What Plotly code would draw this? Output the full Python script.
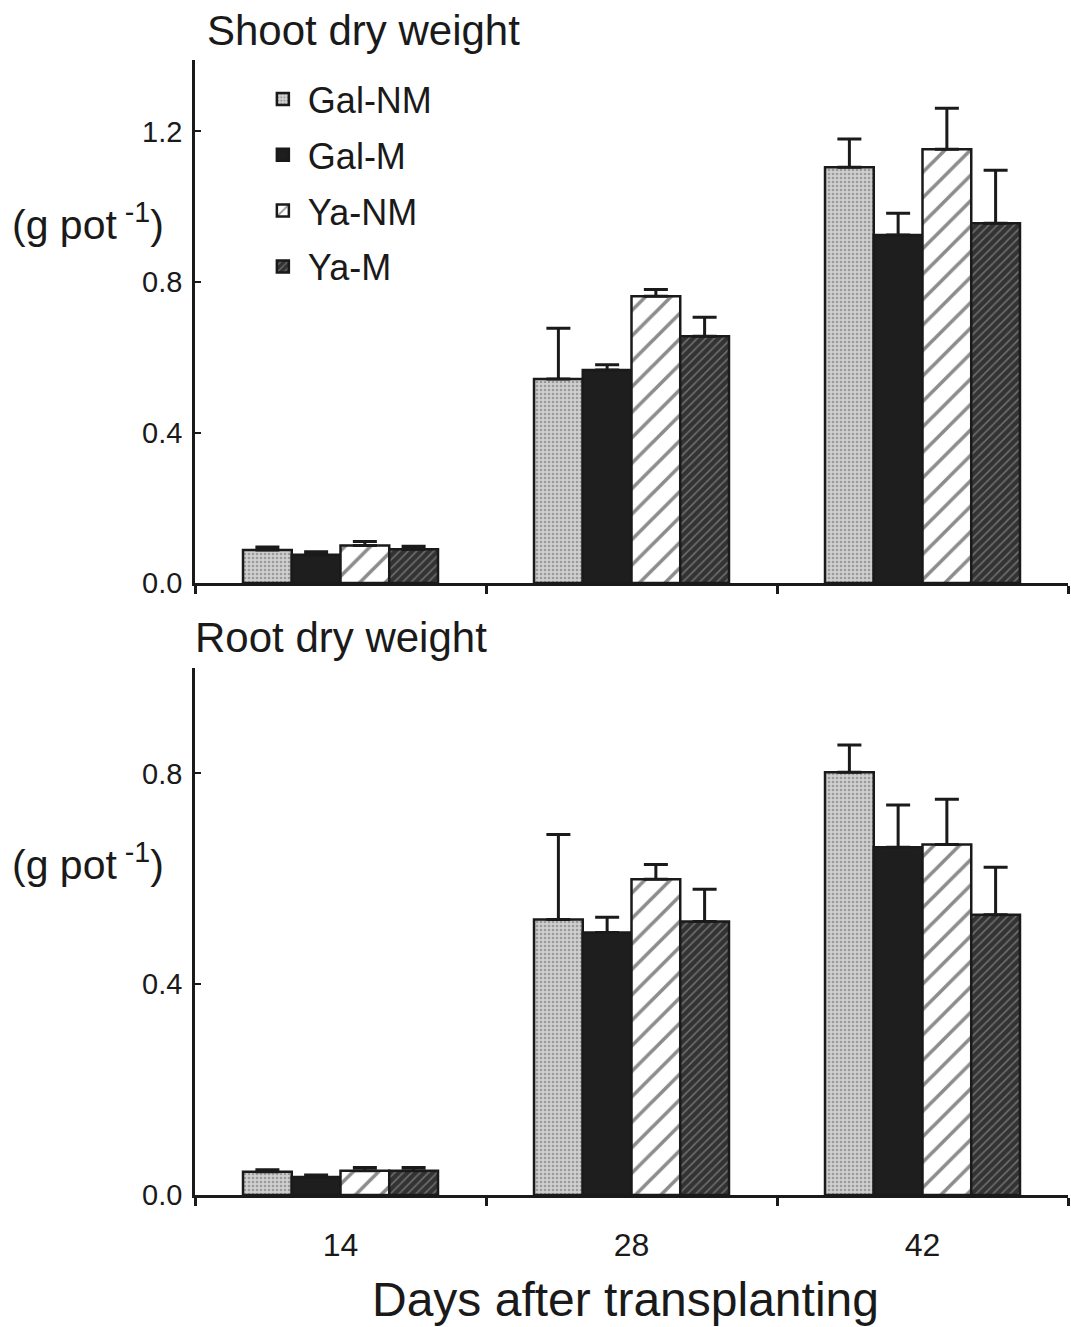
import plotly.graph_objects as go

days = ["14", "28", "42"]
series = ["Gal-NM", "Gal-M", "Ya-NM", "Ya-M"]

shoot = {
    "Gal-NM": [0.088, 0.542, 1.105],
    "Gal-M": [0.075, 0.566, 0.925],
    "Ya-NM": [0.100, 0.762, 1.153],
    "Ya-M": [0.090, 0.656, 0.956],
}
shoot_err = {
    "Gal-NM": [0.008, 0.135, 0.075],
    "Gal-M": [0.008, 0.014, 0.058],
    "Ya-NM": [0.010, 0.018, 0.109],
    "Ya-M": [0.008, 0.050, 0.141],
}
root = {
    "Gal-NM": [0.044, 0.523, 0.802],
    "Gal-M": [0.034, 0.498, 0.660],
    "Ya-NM": [0.046, 0.599, 0.665],
    "Ya-M": [0.046, 0.519, 0.532],
}
root_err = {
    "Gal-NM": [0.004, 0.161, 0.052],
    "Gal-M": [0.004, 0.029, 0.080],
    "Ya-NM": [0.006, 0.028, 0.086],
    "Ya-M": [0.006, 0.061, 0.090],
}

styles = {
    "Gal-NM": dict(color="#cfcfcf", pattern=dict(shape=".", fgcolor="#666666", bgcolor="#cfcfcf", size=4, solidity=0.35)),
    "Gal-M": dict(color="#1e1e1e"),
    "Ya-NM": dict(color="white", pattern=dict(shape="/", fgcolor="#1a1a1a", bgcolor="white", size=18, solidity=0.2)),
    "Ya-M": dict(color="#333333", pattern=dict(shape="/", fgcolor="#b0b0b0", bgcolor="#333333", size=6, solidity=0.25)),
}

FONT = "Liberation Sans, Arial, sans-serif"
INK = "#1a1a1a"
fig = go.Figure()

for s in series:
    st = styles[s]
    marker = dict(color=st["color"], line=dict(color=INK, width=2.5))
    if "pattern" in st:
        marker["pattern"] = st["pattern"]
    fig.add_trace(go.Bar(
        x=days, y=shoot[s], name=s, marker=marker, legendgroup=s,
        error_y=dict(type="data", array=shoot_err[s], arrayminus=[0]*3, symmetric=False,
                     color=INK, thickness=3, width=12),
        xaxis="x", yaxis="y",
    ))
    fig.add_trace(go.Bar(
        x=days, y=root[s], name=s, marker=marker, legendgroup=s, showlegend=False,
        error_y=dict(type="data", array=root_err[s], arrayminus=[0]*3, symmetric=False,
                     color=INK, thickness=3, width=12),
        xaxis="x2", yaxis="y2",
    ))

line_common = dict(showline=True, linecolor=INK, linewidth=2.5, showgrid=False, zeroline=False)
ytick = dict(family=FONT, size=29, color=INK)
xtick = dict(family=FONT, size=32, color=INK)

fig.update_layout(
    width=1071, height=1327,
    margin=dict(l=195, r=3, t=60, b=132),
    plot_bgcolor="white", paper_bgcolor="white",
    barmode="group", bargap=0.33, bargroupgap=0,
    font=dict(family=FONT, color=INK),
    xaxis=dict(**line_common, type="category", range=[-0.5, 2.5], tickson="boundaries",
               ticks="outside", ticklen=8, tickwidth=2.5, tickcolor=INK,
               showticklabels=False, anchor="y"),
    yaxis=dict(**line_common, domain=[0.5392, 1.0], range=[0, 1.39], tickvals=[0, 0.4, 0.8, 1.2],
               tickformat=".1f", ticks="inside", ticklen=6, tickwidth=2, tickcolor=INK, anchor="x",
               tickfont=ytick, ticklabelstandoff=4),
    xaxis2=dict(**line_common, type="category", range=[-0.5, 2.5], tickson="boundaries",
                ticks="outside", ticklen=8, tickwidth=2.5, tickcolor=INK, anchor="y2",
                tickfont=xtick, ticklabelstandoff=20),
    yaxis2=dict(**line_common, domain=[0.0, 0.4643], range=[0, 1.0], tickvals=[0, 0.4, 0.8],
                tickformat=".1f", ticks="inside", ticklen=6, tickwidth=2, tickcolor=INK, anchor="x2",
                tickfont=ytick, ticklabelstandoff=4),
    legend=dict(x=0.072, y=0.992, xanchor="left", yanchor="top", bgcolor="rgba(0,0,0,0)",
                font=dict(family=FONT, size=36, color=INK), tracegroupgap=6,
                itemwidth=40),
)

ann = [
    dict(text="Shoot dry weight", x=0.0115, y=1.026, xanchor="left", yanchor="middle", size=42),
    dict(text="Root dry weight", x=-0.0023, y=0.4916, xanchor="left", yanchor="middle", size=42),
    dict(text="(g pot<sup> -1</sup>)", x=-0.212, y=0.857, xanchor="left", yanchor="middle", size=41),
    dict(text="(g pot<sup> -1</sup>)", x=-0.212, y=0.2934, xanchor="left", yanchor="middle", size=41),
    dict(text="Days after transplanting", x=0.4926, y=-0.0925, xanchor="center", yanchor="middle", size=48),
]
for a in ann:
    fig.add_annotation(text=a["text"], x=a["x"], y=a["y"], xref="paper", yref="paper",
                       xanchor=a["xanchor"], yanchor=a["yanchor"], showarrow=False,
                       font=dict(family=FONT, size=a["size"], color=INK))

fig.write_html("out.html")
